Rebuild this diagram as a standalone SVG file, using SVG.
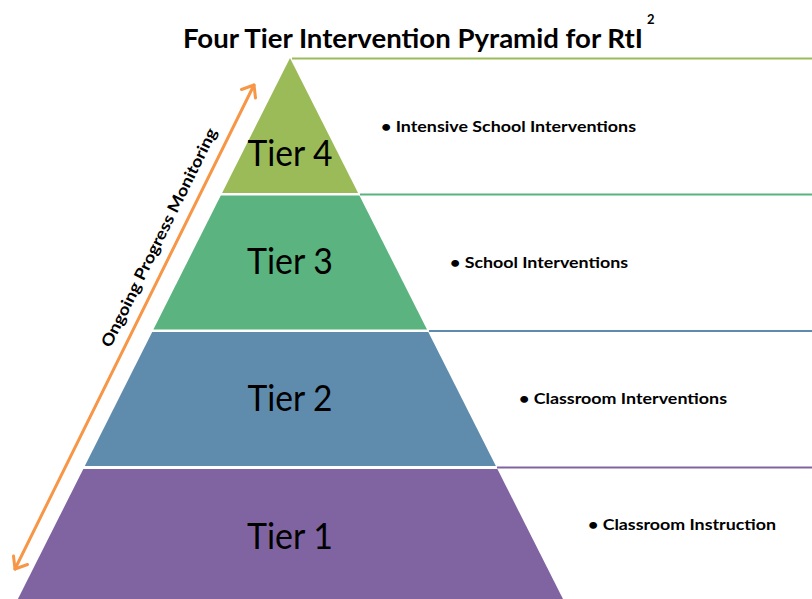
<svg xmlns="http://www.w3.org/2000/svg" width="812" height="599" viewBox="0 0 812 599">
<defs>
<style>
.title{font-family:Lato,"Open Sans","Liberation Sans",sans-serif;font-weight:bold;fill:#000}
.tier{font-family:Lato,"Open Sans","Liberation Sans",sans-serif;font-size:36px;fill:#000;text-anchor:middle}
.bul{font-family:Lato,"Open Sans","Liberation Sans",sans-serif;font-size:15.5px;font-weight:bold;fill:#000}
.lbl{font-family:Lato,"Open Sans","Liberation Sans",sans-serif;font-size:16px;font-weight:bold;fill:#000}
.arr{stroke:#f79646;stroke-width:3;fill:none;stroke-linecap:round;stroke-linejoin:round}
</style>
</defs>
<rect width="812" height="599" fill="#ffffff"/>
<g id="title">
<text class="title" x="183" y="48" font-size="26" textLength="460" lengthAdjust="spacingAndGlyphs">Four Tier Intervention Pyramid for RtI</text>
<text class="title" x="647" y="24" font-size="13">2</text>
</g>
<g id="connectors">
<line x1="292" y1="58.5" x2="812" y2="58.5" stroke="#9bbb59" stroke-width="2"/>
<line x1="360" y1="194.5" x2="812" y2="194.5" stroke="#5bb37f" stroke-width="2"/>
<line x1="429" y1="331" x2="812" y2="331" stroke="#5f8cad" stroke-width="2"/>
<line x1="497" y1="467.5" x2="812" y2="467.5" stroke="#8064a2" stroke-width="2"/>
</g>
<g id="tier4">
<polygon points="290,58 358.1,193 222.1,193" fill="#9bbb59"/>
<text class="tier" x="290" y="166" textLength="85" lengthAdjust="spacingAndGlyphs">Tier 4</text>
</g>
<g id="tier3">
<polygon points="220.8,195.5 359.4,195.5 427,329.5 153.4,329.5" fill="#5bb37f"/>
<text class="tier" x="290" y="274" textLength="86" lengthAdjust="spacingAndGlyphs">Tier 3</text>
</g>
<g id="tier2">
<polygon points="152.2,332 428.3,332 495.9,466 84.8,466" fill="#5f8cad"/>
<text class="tier" x="290" y="411" textLength="85" lengthAdjust="spacingAndGlyphs">Tier 2</text>
</g>
<g id="tier1">
<polygon points="83.3,469 497.4,469 563.5,600 17.4,600" fill="#8064a2"/>
<text class="tier" x="290" y="549" textLength="86" lengthAdjust="spacingAndGlyphs">Tier 1</text>
</g>
<g id="bullets">
<text class="bul" x="381" y="132" textLength="255" lengthAdjust="spacingAndGlyphs">• Intensive School Interventions</text>
<text class="bul" x="450" y="268" textLength="178" lengthAdjust="spacingAndGlyphs">• School Interventions</text>
<text class="bul" x="519" y="404" textLength="208" lengthAdjust="spacingAndGlyphs">• Classroom Interventions</text>
<text class="bul" x="588" y="530" textLength="188" lengthAdjust="spacingAndGlyphs">• Classroom Instruction</text>
</g>
<g id="monitoring">
<line class="arr" x1="15" y1="569" x2="254" y2="85"/>
<polyline class="arr" points="241.5,89.5 254,85 255.5,98"/>
<polyline class="arr" points="13.5,556 15,569 27.5,564.5"/>
<text class="lbl" transform="translate(164,240) rotate(-63.8)" text-anchor="middle" textLength="242" lengthAdjust="spacingAndGlyphs">Ongoing Progress Monitoring</text>
</g>
</svg>
